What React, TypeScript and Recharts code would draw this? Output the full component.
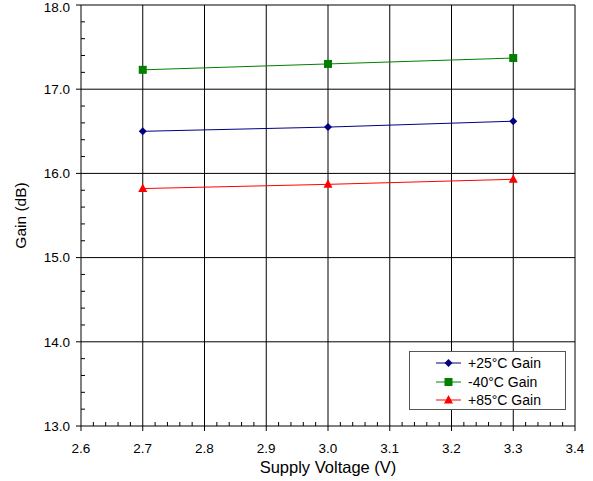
import React from 'react';
import { Line, LineChart, ReferenceLine, XAxis, YAxis } from 'recharts';

const voltage = [2.7, 3.0, 3.3];
const gain25 = [16.5, 16.55, 16.62];
const gainMinus40 = [17.23, 17.3, 17.37];
const gain85 = [15.82, 15.87, 15.93];

const xMajorTicks = [2.6, 2.7, 2.8, 2.9, 3.0, 3.1, 3.2, 3.3, 3.4];
const yMajorTicks = [13, 14, 15, 16, 17, 18];

// minor ticks: 5 per major step on x, 5 per major step on y
const xTicks = xMajorTicks.flatMap((v, i) =>
  i < xMajorTicks.length - 1 ? [0, 1, 2, 3, 4].map(k => +(v + k * 0.02).toFixed(2)) : [v]
);
const yTicks = yMajorTicks.flatMap((v, i) =>
  i < yMajorTicks.length - 1 ? [0, 1, 2, 3, 4].map(k => +(v + k * 0.2).toFixed(1)) : [v]
);

const series = [
  { key: 'g25', name: '+25°C Gain', color: '#000080', shape: 'diamond', values: gain25 },
  { key: 'gm40', name: '-40°C Gain', color: '#008000', shape: 'square', values: gainMinus40 },
  { key: 'g85', name: '+85°C Gain', color: '#FF0000', shape: 'triangle', values: gain85 },
];

const data = voltage.map((v, i) => {
  const row: any = { v };
  series.forEach(s => (row[s.key] = s.values[i]));
  return row;
});

const FONT = 'Liberation Sans, Arial, sans-serif';

const Marker = ({ cx, cy, shape, color }: any) => {
  if (cx == null || cy == null) return null;
  if (shape === 'diamond')
    return <path d={`M${cx},${cy - 4}L${cx + 4},${cy}L${cx},${cy + 4}L${cx - 4},${cy}Z`} fill={color} />;
  if (shape === 'square') return <rect x={cx - 4} y={cy - 4} width={8} height={8} fill={color} />;
  return <path d={`M${cx},${cy - 5}L${cx + 4.5},${cy + 3.5}L${cx - 4.5},${cy + 3.5}Z`} fill={color} />;
};

const isMajor = (v: number, step: number) => Math.abs(v / step - Math.round(v / step)) < 1e-6;

const XTick = ({ x, y, payload }: any) => {
  const major = isMajor(payload.value, 0.1);
  return (
    <g>
      {major ? (
        <line x1={x} y1={y} x2={x} y2={y + 5} stroke="#000" />
      ) : (
        <line x1={x} y1={y} x2={x} y2={y - 4} stroke="#000" />
      )}
      {major && (
        <text x={x} y={y + 27} textAnchor="middle" fontSize={13.5} fontFamily={FONT} fill="#000">
          {payload.value.toFixed(1)}
        </text>
      )}
    </g>
  );
};

const YTick = ({ x, y, payload }: any) => {
  const major = isMajor(payload.value, 1);
  return (
    <g>
      {major ? (
        <line x1={x} y1={y} x2={x - 5} y2={y} stroke="#000" />
      ) : (
        <line x1={x} y1={y} x2={x + 4} y2={y} stroke="#000" />
      )}
      {major && (
        <text x={x - 11} y={Math.max(y, 7)} dy="0.35em" textAnchor="end" fontSize={13.5} fontFamily={FONT} fill="#000">
          {payload.value.toFixed(1)}
        </text>
      )}
    </g>
  );
};

const App: React.FC = () => {
  return (
    <div style={{ position: 'absolute', left: 0, top: 0, width: 593, height: 481, background: '#fff' }}>
      <LineChart width={593} height={481} data={data} margin={{ top: 5, right: 18, left: 0, bottom: 0 }}>
        {xMajorTicks.slice(1).map(v => (
          <ReferenceLine key={`x${v}`} x={v} stroke="#000" strokeWidth={1} />
        ))}
        {yMajorTicks.slice(1).map(v => (
          <ReferenceLine key={`y${v}`} y={v} stroke="#000" strokeWidth={1} />
        ))}
        <XAxis
          type="number"
          dataKey="v"
          domain={[2.6, 3.4]}
          ticks={xTicks}
          interval={0}
          height={55}
          tickSize={0}
          tickMargin={0}
          tickLine={false}
          axisLine={{ stroke: '#000' }}
          tick={XTick}
          label={{ value: 'Supply Voltage (V)', position: 'insideBottom', offset: 8, fontSize: 16.5, fontFamily: FONT, fill: '#000' }}
        />
        <YAxis
          type="number"
          domain={[13, 18]}
          ticks={yTicks}
          interval={0}
          width={81}
          tickSize={0}
          tickMargin={0}
          tickLine={false}
          axisLine={{ stroke: '#000' }}
          tick={YTick}
          label={({ viewBox }: any) => (
            <text
              x={26}
              y={viewBox.y + viewBox.height / 2}
              transform={`rotate(-90, 26, ${viewBox.y + viewBox.height / 2})`}
              textAnchor="middle"
              fontSize={15.5}
              fontFamily={FONT}
              fill="#000"
            >
              Gain (dB)
            </text>
          )}
        />
        {series.map(s => (
          <Line
            key={s.key}
            type="linear"
            dataKey={s.key}
            name={s.name}
            stroke={s.color}
            strokeWidth={1}
            isAnimationActive={false}
            dot={(p: any) => <Marker key={`${s.key}-${p.index}`} cx={p.cx} cy={p.cy} shape={s.shape} color={s.color} />}
            activeDot={false}
          />
        ))}
      </LineChart>
      <div
        style={{
          position: 'absolute',
          left: 409,
          top: 351,
          width: 157,
          height: 59,
          border: '1px solid #555',
          background: '#fff',
          boxSizing: 'border-box',
          paddingTop: 2,
          fontFamily: FONT,
          fontSize: 14,
        }}
      >
        {series.map(s => (
          <div key={s.key} style={{ display: 'flex', alignItems: 'center', height: 18.5 }}>
            <svg width={58} height={12} style={{ flex: 'none' }}>
              <line x1={26} y1={6} x2={51} y2={6} stroke={s.color} />
              <Marker cx={38.5} cy={6} shape={s.shape} color={s.color} />
            </svg>
            <span>{s.name}</span>
          </div>
        ))}
      </div>
    </div>
  );
};

export default App;
